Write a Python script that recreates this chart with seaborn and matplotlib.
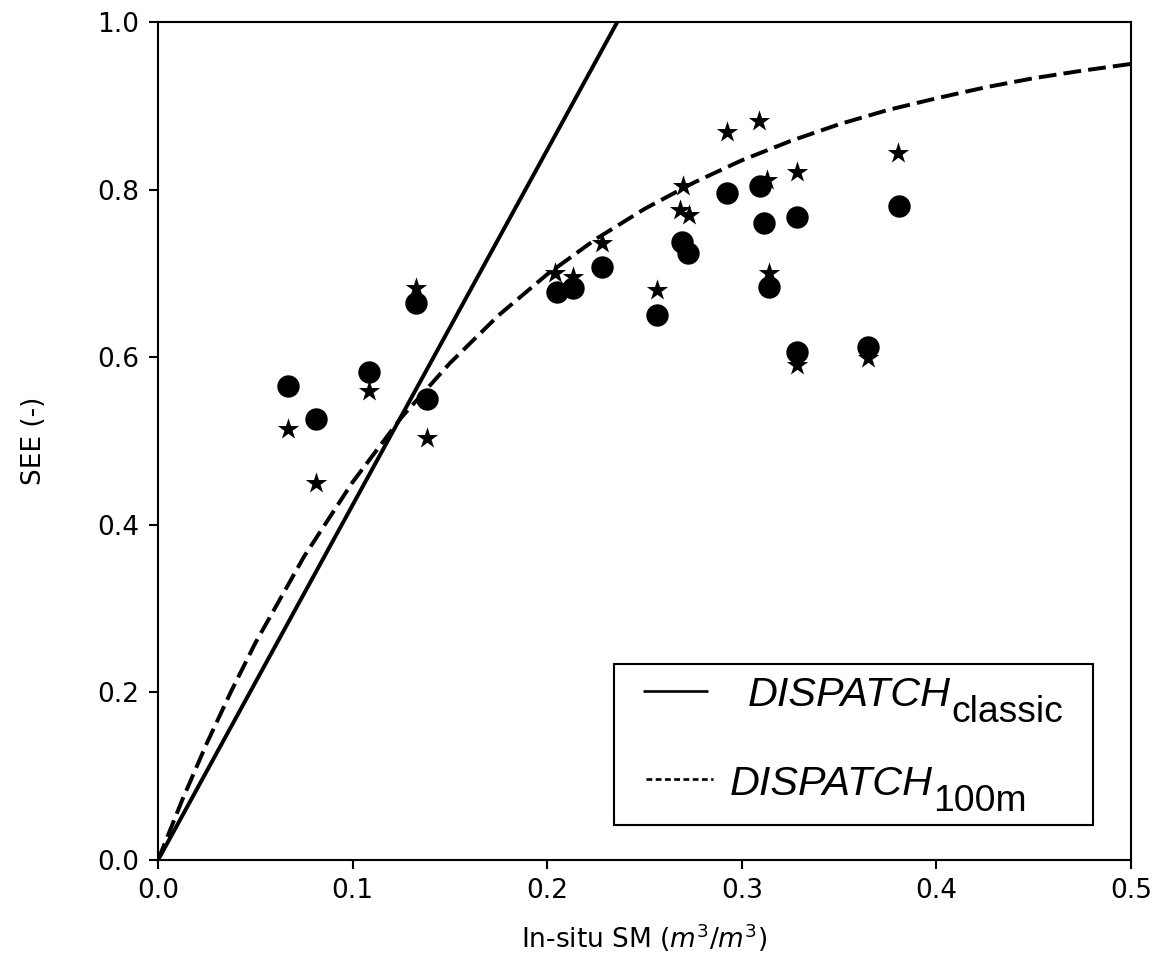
import matplotlib
matplotlib.use("Agg")
import matplotlib.pyplot as plt
from matplotlib.lines import Line2D
from matplotlib.offsetbox import (AnchoredOffsetbox, DrawingArea, HPacker,
                                  TextArea, VPacker)
import seaborn as sns

# In-situ soil moisture (m3/m3) and observed SEE (-), circle series
sm_circle = [0.0668, 0.0812, 0.1084, 0.1326, 0.1382, 0.2050, 0.2133, 0.2282,
             0.2564, 0.2693, 0.2724, 0.2924, 0.3094, 0.3114, 0.3140, 0.3284,
             0.3284, 0.3649, 0.3808]
see_circle = [0.566, 0.526, 0.582, 0.665, 0.550, 0.678, 0.683, 0.708,
              0.650, 0.737, 0.724, 0.796, 0.804, 0.760, 0.684, 0.767,
              0.606, 0.612, 0.780]

# Star series
sm_star = [0.0668, 0.0812, 0.1084, 0.1326, 0.1382, 0.2040, 0.2133, 0.2282,
           0.2564, 0.2698, 0.2682, 0.2729, 0.2924, 0.3088, 0.3129, 0.3140,
           0.3284, 0.3284, 0.3649, 0.3803]
see_star = [0.514, 0.450, 0.560, 0.683, 0.504, 0.700, 0.696, 0.736,
            0.680, 0.804, 0.776, 0.770, 0.869, 0.882, 0.811, 0.700,
            0.821, 0.591, 0.599, 0.844]

# DISPATCH classic (linear SEE model)
classic_sm = [0.0, 0.236]
classic_see = [0.0, 1.0]

# DISPATCH 100 m (saturating SEE model)
m100_sm = [0.0, 0.0125, 0.025, 0.0375, 0.05, 0.075, 0.1, 0.125, 0.15, 0.175,
           0.2, 0.225, 0.25, 0.275, 0.3, 0.325, 0.35, 0.375, 0.4, 0.425,
           0.45, 0.475, 0.5]
m100_see = [0.0, 0.072, 0.139, 0.201, 0.259, 0.362, 0.451, 0.528, 0.593, 0.650,
            0.699, 0.741, 0.777, 0.808, 0.835, 0.858, 0.878, 0.895, 0.909, 0.922,
            0.933, 0.942, 0.950]

legend_main = ["DISPATCH", "DISPATCH"]
legend_sub = ["classic", "100m"]

plt.rcParams.update({
    "font.family": ["DejaVu Sans"],
    "font.size": 10,
})

DPI = 190
fig = plt.figure(figsize=(1163 / DPI, 958 / DPI), dpi=DPI)
ax = fig.add_axes([0.1359, 0.1023, 0.8366, 0.8747])

sns.lineplot(x=classic_sm, y=classic_see, color="black", lw=1.5,
             sort=False, estimator=None, ax=ax)
sns.lineplot(x=m100_sm, y=m100_see, color="black", lw=1.5,
             sort=False, estimator=None, ax=ax)
ax.lines[-1].set_dashes((4.5, 1.8))

sns.scatterplot(x=sm_star, y=see_star, marker="*", s=72, color="black",
                linewidth=0, ax=ax, zorder=3)
sns.scatterplot(x=sm_circle, y=see_circle, marker="o", s=72, color="black",
                linewidth=0, ax=ax, zorder=4)

ax.set_xlim(0, 0.5)
ax.set_ylim(0, 1.0)
ax.set_xticks([0.0, 0.1, 0.2, 0.3, 0.4, 0.5])
ax.set_yticks([0.0, 0.2, 0.4, 0.6, 0.8, 1.0])
ax.set_xlabel(r"In-situ SM ($m^3/m^3$)", labelpad=6.5)
ax.set_ylabel("SEE (-)", labelpad=19)

# Legend with full-size subscripts, built from offset boxes
MAIN_PROPS = dict(family="Liberation Sans", style="italic", size=15.7)
SUB_PROPS = dict(family="Liberation Sans", size=14.1)
SUB_DROP = 7.1      # pt of empty space above each subscript
RIGHT_PAD = 11.5    # pt between the longest label and the frame


def legend_row(x0, x1, text_x, line_y, line_kw, main, sub):
    handle = DrawingArea(text_x, 10)
    handle.add_artist(Line2D([x0, x1], [line_y, line_y], color="black",
                             solid_capstyle="butt", **line_kw))
    main_box = TextArea(main, textprops=MAIN_PROPS)
    sub_box = VPacker(children=[DrawingArea(1, SUB_DROP),
                                TextArea(sub, textprops=SUB_PROPS)],
                      sep=0, pad=0, align="left")
    return HPacker(children=[handle, main_box, sub_box,
                             DrawingArea(RIGHT_PAD, 1)],
                   sep=0, pad=0, align="top")


row_classic = legend_row(11.0, 35.6, 50.8, 4.3, dict(lw=1.0),
                         legend_main[0], legend_sub[0])
row_100m = legend_row(12.1, 37.5, 44.0, 4.7,
                      dict(lw=1.0, dashes=(2.2, 1.3)),
                      legend_main[1], legend_sub[1])
rows = VPacker(children=[row_classic, row_100m], sep=13.4, pad=0,
               align="left")
legend_body = VPacker(children=[DrawingArea(1, 4.6), rows,
                                DrawingArea(1, 2.3)],
                      sep=0, pad=0, align="left")
legend_box = AnchoredOffsetbox(loc="lower right", child=legend_body,
                               pad=0, borderpad=0, frameon=True,
                               bbox_to_anchor=(0.961, 0.042),
                               bbox_transform=ax.transAxes)
legend_box.patch.set_edgecolor("black")
legend_box.patch.set_linewidth(0.8)
legend_box.patch.set_facecolor("white")
legend_box.set_zorder(5)
ax.add_artist(legend_box)

fig.savefig("out.png", dpi=DPI)
